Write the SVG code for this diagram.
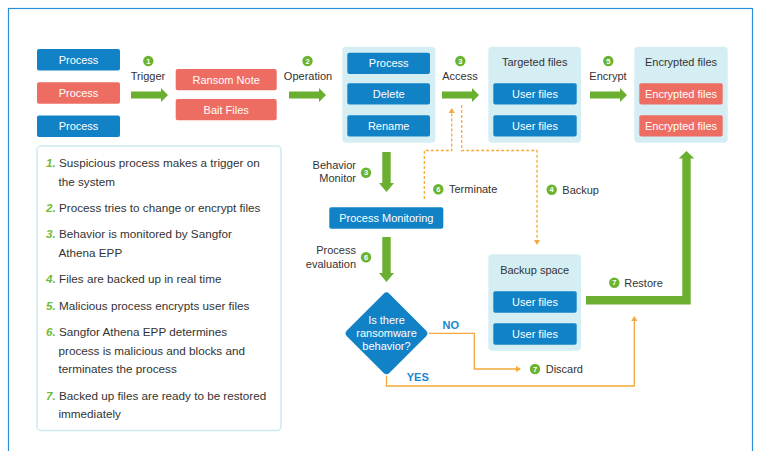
<svg xmlns="http://www.w3.org/2000/svg" width="757" height="451" viewBox="0 0 757 451">
<style>
text{font-family:"Liberation Sans",Arial,sans-serif;}
.lbl{font-size:11px;fill:#333333;}
.btn{font-size:11px;fill:#ffffff;text-anchor:middle;}
.ttl{font-size:11px;fill:#333333;text-anchor:middle;}
.leg{font-size:11.7px;fill:#333333;}
.num{font-size:11.7px;fill:#72bb3a;font-weight:bold;font-style:italic;}
.cn{font-size:7.5px;fill:#ffffff;font-weight:bold;text-anchor:middle;}
.blue{fill:#1282c7;}
.red{fill:#ed6d62;}
.cont{fill:#d5eef4;}
.garrow{fill:#6aaf30;}
.circ{fill:#6ab42f;}
.dash{fill:none;stroke:#f5a93a;stroke-width:1.3;stroke-dasharray:3 2;}
.solid{fill:none;stroke:#f5a93a;stroke-width:1.3;}
.yn{font-size:11px;fill:#1a87cf;font-weight:bold;text-anchor:middle;}
</style>
<defs>
<marker id="oa" markerUnits="userSpaceOnUse" markerWidth="8" markerHeight="8" refX="4" refY="3" viewBox="0 0 8 6" orient="auto">
<path d="M0,0 L5,3 L0,6 Z" fill="#f5a93a"/>
</marker>
</defs>
<rect width="757" height="451" fill="#ffffff"/>
<rect x="8.5" y="8.5" width="744" height="470" fill="none" stroke="#2b8fd6" stroke-width="1.2"/>

<g id="connectors">
<polygon class="garrow" points="131,91.5 161,91.5 161,88 168,95 161,102 161,98.5 131,98.5"/>
<polygon class="garrow" points="289,91.5 319,91.5 319,88 326,95 319,102 319,98.5 289,98.5"/>
<polygon class="garrow" points="442,91.5 472,91.5 472,88 479,95 472,102 472,98.5 442,98.5"/>
<polygon class="garrow" points="590,91.5 620,91.5 620,88 627,95 620,102 620,98.5 590,98.5"/>
<polygon class="garrow" points="382.3,152 390.7,152 390.7,183 394,183 386.5,192 379,183 382.3,183"/>
<polygon class="garrow" points="382.3,237 390.7,237 390.7,273 394,273 386.5,282 379,273 382.3,273"/>
<polygon class="garrow" points="586,296 682.3,296 682.3,158.5 678.7,158.5 686.5,151 694.3,158.5 690.7,158.5 690.7,304.5 586,304.5"/>
<path class="dash" d="M424.3,199 V150.5 H451.7 V109" marker-end="url(#oa)"/>
<path class="dash" d="M461.7,105 V150.5 H537 V244" marker-end="url(#oa)"/>
<path class="solid" d="M429,333.3 H474.3 V369 H520" marker-end="url(#oa)"/>
<path class="solid" d="M386.5,375.7 V386 H634.3 V317" marker-end="url(#oa)"/>
</g>

<g id="step1">
<circle class="circ" cx="148.3" cy="61" r="5.2"/><text class="cn" x="148.3" y="63.7">1</text>
<text class="lbl" x="148" y="80" text-anchor="middle">Trigger</text>
</g>
<g id="step2">
<circle class="circ" cx="307.5" cy="61" r="5.2"/><text class="cn" x="307.5" y="63.7">2</text>
<text class="lbl" x="308" y="80" text-anchor="middle">Operation</text>
</g>
<g id="step3">
<circle class="circ" cx="460.3" cy="61" r="5.2"/><text class="cn" x="460.3" y="63.7">3</text>
<text class="lbl" x="460" y="80" text-anchor="middle">Access</text>
</g>
<g id="step5">
<circle class="circ" cx="608.3" cy="61" r="5.2"/><text class="cn" x="608.3" y="63.7">5</text>
<text class="lbl" x="608" y="80" text-anchor="middle">Encrypt</text>
</g>

<g id="processes">
<rect class="blue" x="37" y="49" width="83" height="21.5" rx="2"/><text class="btn" x="78.5" y="63.7">Process</text>
<rect class="red" x="37" y="82.3" width="83" height="21.5" rx="2"/><text class="btn" x="78.5" y="97">Process</text>
<rect class="blue" x="37" y="115.5" width="83" height="21.5" rx="2"/><text class="btn" x="78.5" y="130.2">Process</text>
</g>

<g id="ransom">
<rect class="red" x="175.7" y="69" width="101" height="21.3" rx="2"/><text class="btn" x="226.2" y="83.7">Ransom Note</text>
<rect class="red" x="175.7" y="99" width="101" height="21.3" rx="2"/><text class="btn" x="226.2" y="113.7">Bait Files</text>
</g>

<g id="operations">
<rect class="cont" x="342.3" y="46.7" width="93" height="96" rx="4"/>
<rect class="blue" x="347.3" y="52.7" width="82.7" height="21.3" rx="2"/><text class="btn" x="388.7" y="67.4">Process</text>
<rect class="blue" x="347.3" y="83.3" width="82.7" height="21.3" rx="2"/><text class="btn" x="388.7" y="98">Delete</text>
<rect class="blue" x="347.3" y="115.3" width="82.7" height="21.3" rx="2"/><text class="btn" x="388.7" y="130">Rename</text>
</g>

<g id="targeted">
<rect class="cont" x="488.3" y="46.7" width="92.7" height="96" rx="4"/>
<text class="ttl" x="534.7" y="66.2">Targeted files</text>
<rect class="blue" x="493.3" y="83.3" width="83.4" height="21.3" rx="2"/><text class="btn" x="535" y="98">User files</text>
<rect class="blue" x="493.3" y="115.3" width="83.4" height="21.3" rx="2"/><text class="btn" x="535" y="130">User files</text>
</g>

<g id="encrypted">
<rect class="cont" x="634.3" y="46.7" width="93.4" height="96" rx="4"/>
<text class="ttl" x="681" y="66">Encrypted files</text>
<rect class="red" x="639.3" y="83.3" width="83.4" height="21.3" rx="2"/><text class="btn" x="681" y="98">Encrypted files</text>
<rect class="red" x="639.3" y="115.3" width="83.4" height="21.3" rx="2"/><text class="btn" x="681" y="130">Encrypted files</text>
</g>

<g id="legend">
<rect x="37" y="146" width="244" height="284.5" rx="4" fill="#ffffff" stroke="#cfe9f1" stroke-width="1.5"/>
<text class="num" x="46" y="166.7">1.</text><text class="leg" x="59" y="166.7">Suspicious process makes a trigger on</text>
<text class="leg" x="58.5" y="185.7">the system</text>
<text class="num" x="46" y="211.7">2.</text><text class="leg" x="59" y="211.7">Process tries to change or encrypt files</text>
<text class="num" x="46" y="238">3.</text><text class="leg" x="59" y="238">Behavior is monitored by Sangfor</text>
<text class="leg" x="58.5" y="256.7">Athena EPP</text>
<text class="num" x="46" y="282.7">4.</text><text class="leg" x="59" y="282.7">Files are backed up in real time</text>
<text class="num" x="46" y="309.7">5.</text><text class="leg" x="59" y="309.7">Malicious process encrypts user files</text>
<text class="num" x="46" y="336.3">6.</text><text class="leg" x="59" y="336.3">Sangfor Athena EPP determines</text>
<text class="leg" x="58.5" y="354.7">process is malicious and blocks and</text>
<text class="leg" x="58.5" y="373.3">terminates the process</text>
<text class="num" x="46" y="400">7.</text><text class="leg" x="59" y="400">Backed up files are ready to be restored</text>
<text class="leg" x="58.5" y="418.3">immediately</text>
</g>

<g id="behavior-monitor">
<text class="lbl" x="356" y="169" text-anchor="end">Behavior</text>
<text class="lbl" x="356" y="181.7" text-anchor="end">Monitor</text>
<circle class="circ" cx="366" cy="172.7" r="5.2"/><text class="cn" x="366" y="175.4">3</text>
</g>

<g id="terminate">
<circle class="circ" cx="438.3" cy="189.3" r="5.2"/><text class="cn" x="438.3" y="192">6</text>
<text class="lbl" x="449" y="193.2">Terminate</text>
</g>

<g id="backup">
<circle class="circ" cx="551.7" cy="189.7" r="5.2"/><text class="cn" x="551.7" y="192.4">4</text>
<text class="lbl" x="562.3" y="193.6">Backup</text>
</g>

<g id="process-monitoring">
<rect class="blue" x="329.3" y="207.3" width="114" height="21.4" rx="2"/>
<text class="btn" x="386.3" y="222">Process Monitoring</text>
</g>

<g id="process-evaluation">
<text class="lbl" x="356" y="254.3" text-anchor="end">Process</text>
<text class="lbl" x="356" y="267.7" text-anchor="end">evaluation</text>
<circle class="circ" cx="366" cy="257.3" r="5.2"/><text class="cn" x="366" y="260">6</text>
</g>

<g id="decision">
<rect x="-30" y="-30" width="60" height="60" rx="4" fill="#1282c7" transform="translate(386.5,333.3) rotate(45)"/>
<text class="btn" x="386.5" y="324">Is there</text>
<text class="btn" x="386.5" y="336.7">ransomware</text>
<text class="btn" x="386.5" y="350">behavior?</text>
<text class="yn" x="450.8" y="328.7">NO</text>
<text class="yn" x="417.8" y="380.7">YES</text>
</g>

<g id="backup-space">
<rect class="cont" x="488.3" y="254.3" width="92.7" height="96.4" rx="4"/>
<text class="ttl" x="534.7" y="274.2">Backup space</text>
<rect class="blue" x="493.3" y="291.3" width="83.4" height="21.4" rx="2"/><text class="btn" x="535" y="306">User files</text>
<rect class="blue" x="493.3" y="323.3" width="83.4" height="21.4" rx="2"/><text class="btn" x="535" y="338">User files</text>
</g>

<g id="restore">
<circle class="circ" cx="614.3" cy="282.7" r="5.2"/><text class="cn" x="614.3" y="285.4">7</text>
<text class="lbl" x="624.3" y="286.6">Restore</text>
</g>

<g id="discard">
<circle class="circ" cx="535" cy="369" r="5.2"/><text class="cn" x="535" y="371.7">7</text>
<text class="lbl" x="545.7" y="372.9">Discard</text>
</g>
</svg>
